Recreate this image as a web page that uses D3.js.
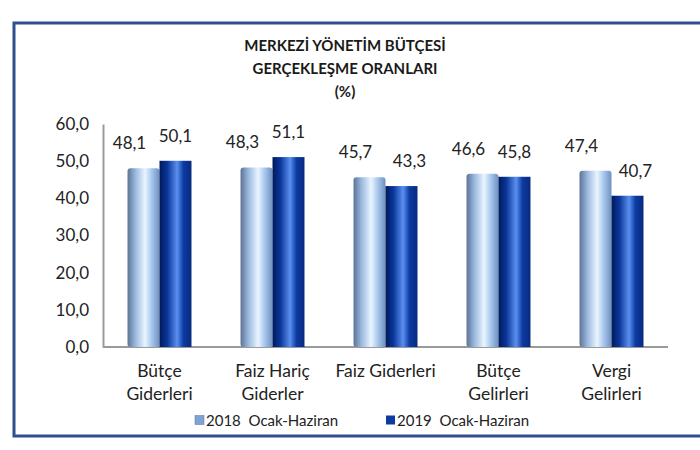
<!DOCTYPE html>
<html>
<head>
<meta charset="utf-8">
<script src="https://cdn.jsdelivr.net/npm/d3@7"></script>
<style>
  body { margin: 0; background: #fff; }
  svg { display: block; }
</style>
</head>
<body>
<div id="chart"></div>
<script>
(function () {
  // Datos del grafico
  const categories = [['Bütçe', 'Giderleri'], ['Faiz Hariç', 'Giderler'], ['Faiz Giderleri'], ['Bütçe', 'Gelirleri'], ['Vergi', 'Gelirleri']]
  const series = ['2018  Ocak-Haziran', '2019  Ocak-Haziran']
  const values2018 = [48.1, 48.3, 45.7, 46.6, 47.4]
  const values2019 = [50.1, 51.1, 43.3, 45.8, 40.7]
  const yTicks = [0, 10, 20, 30, 40, 50, 60]
  const titleLines = ['MERKEZİ YÖNETİM BÜTÇESİ', 'GERÇEKLEŞME ORANLARI', '(%)']

  const WIDTH = 700
  const HEIGHT = 450
  const PLOT = { LEFT: 103, RIGHT: 668, TOP: 124, BOTTOM: 347 }
  const FONT = 'Lato, "Open Sans", sans-serif'
  const fmt = v => v.toFixed(1).replace('.', ',')

  const svg = d3.select('#chart').append('svg')
    .attr('width', WIDTH)
    .attr('height', HEIGHT)

  // Degradados tipo cilindro
  const defs = svg.append('defs')
  const gradients = [
    { id: 'grad-light', stops: [[0, '#5c7394'], [0.25, '#9bb9df'], [0.55, '#eaf5ff'], [0.75, '#a9c8ee'], [1, '#6f8fbf']] },
    { id: 'grad-dark', stops: [[0, '#001a5c'], [0.25, '#0b379a'], [0.55, '#5a8ff0'], [0.75, '#0c3ba2'], [1, '#082a7e']] }
  ]
  gradients.forEach(g => {
    const lg = defs.append('linearGradient').attr('id', g.id)
      .attr('x1', '0%').attr('x2', '100%').attr('y1', '0%').attr('y2', '0%')
    lg.selectAll('stop').data(g.stops).enter().append('stop')
      .attr('offset', d => d[0])
      .attr('stop-color', d => d[1])
  })
  const fills = ['url(#grad-light)', 'url(#grad-dark)']
  const legendFills = ['#7fa3d4', '#0d3aa0']

  // Marco
  svg.append('rect')
    .attr('x', 14).attr('y', 23)
    .attr('width', 700).attr('height', 413)
    .style('fill', 'none')
    .style('stroke', '#2f4f8f')
    .style('stroke-width', 3)

  // Titulo
  svg.append('g').selectAll('text')
    .data(titleLines)
    .enter().append('text')
    .attr('x', 345)
    .attr('y', (d, i) => 51 + i * 23)
    .attr('text-anchor', 'middle')
    .style('font-family', FONT)
    .style('font-weight', 'bold')
    .style('font-size', '15px')
    .style('fill', '#1a1a1a')
    .text(d => d)

  // Escalas
  const x0 = d3.scaleBand()
    .domain(d3.range(categories.length))
    .range([PLOT.LEFT, PLOT.RIGHT])
    .paddingInner(0.434)
    .paddingOuter(0.217)
  const x1 = d3.scaleBand()
    .domain([0, 1])
    .range([0, x0.bandwidth()])
  const y = d3.scaleLinear()
    .domain([0, 60])
    .range([PLOT.BOTTOM, PLOT.TOP])

  // Eje Y
  const yAxis = svg.append('g')
    .attr('transform', `translate(${PLOT.LEFT}, 0)`)
    .call(d3.axisLeft(y).tickValues(yTicks).tickFormat(fmt).tickSize(0).tickPadding(14))
  yAxis.select('.domain').style('stroke', '#9a9a9a').style('stroke-width', 2)
  yAxis.selectAll('text')
    .style('font-family', FONT)
    .style('font-size', '17px')
    .style('fill', '#222')

  // Eje X
  const xAxis = svg.append('g')
    .attr('transform', `translate(0, ${PLOT.BOTTOM})`)
    .call(d3.axisBottom(x0).tickSize(0).tickFormat(''))
  xAxis.select('.domain')
    .attr('d', `M${PLOT.LEFT},0H${PLOT.RIGHT}`)
    .style('stroke', '#9a9a9a').style('stroke-width', 2)

  xAxis.selectAll('.tick').each(function (d) {
    const t = d3.select(this).append('text')
      .attr('text-anchor', 'middle')
      .style('font-family', FONT)
      .style('font-size', '17.5px')
      .style('fill', '#222')
    categories[d].forEach((line, i) => {
      t.append('tspan').attr('x', 0).attr('y', 30 + i * 23).text(line)
    })
  })

  // Barras
  const rows = categories.map((c, i) => [values2018[i], values2019[i]])
  const groups = svg.append('g').selectAll('.group')
    .data(rows)
    .enter().append('g')
    .attr('transform', (d, i) => `translate(${x0(i)}, 0)`)

  groups.selectAll('rect')
    .data(d => d)
    .enter().append('rect')
    .attr('x', (d, j) => x1(j))
    .attr('y', d => y(d))
    .attr('width', x1.bandwidth())
    .attr('height', d => y(0) - y(d))
    .attr('rx', (d, j) => j === 0 ? 3 : 0)
    .style('fill', (d, j) => fills[j])

  // Etiquetas de valores
  groups.selectAll('.label')
    .data(d => d.map((v, j) => ({ v, j, other: d[1 - j] })))
    .enter().append('text')
    .attr('x', d => {
      const c = x1(d.j) + x1.bandwidth() / 2
      if (d.j === 0) return c - 14
      return d.v < d.other - 2 ? c + 8 : c
    })
    .attr('y', d => y(d.v) - 19)
    .attr('text-anchor', 'middle')
    .style('font-family', FONT)
    .style('font-size', '17px')
    .style('fill', '#222')
    .text(d => fmt(d.v))

  // Leyenda
  const legendX = [195, 386]
  const legend = svg.append('g').selectAll('.legend')
    .data(series)
    .enter().append('g')
    .attr('transform', (d, i) => `translate(${legendX[i]}, 420)`)
  legend.append('rect')
    .attr('x', 0).attr('y', -4.5)
    .attr('width', 9).attr('height', 9)
    .style('fill', (d, i) => legendFills[i])
    .style('stroke', (d, i) => i === 0 ? '#5c7394' : 'none')
    .style('stroke-width', 0.5)
  legend.append('text')
    .attr('x', 11).attr('y', 5.5)
    .style('font-family', FONT)
    .style('font-size', '15px')
    .style('fill', '#222')
    .style('white-space', 'pre')
    .text(d => d)
})()
</script>
</body>
</html>
